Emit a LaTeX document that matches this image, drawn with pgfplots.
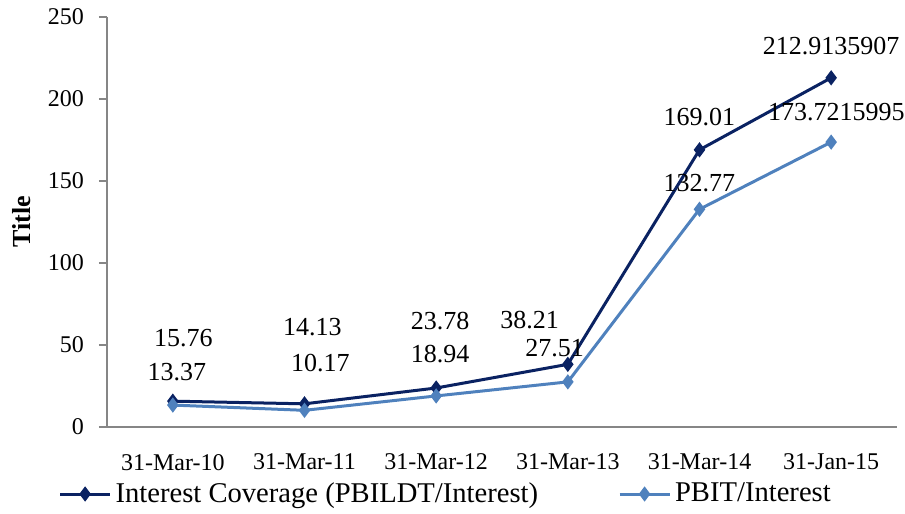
\documentclass[border=0pt]{standalone}
\usepackage{fontspec}
\setmainfont{Liberation Serif}
\usepackage{pgfplots}
\pgfplotsset{compat=1.18}
\definecolor{darkser}{RGB}{10,34,98}
\definecolor{lightser}{RGB}{79,129,189}
\definecolor{axgray}{RGB}{134,134,134}
\begin{document}
\begin{tikzpicture}
\path[use as bounding box] (-53.5pt,-43.5pt) rectangle (399pt,213.5pt);
\begin{axis}[
  scale only axis, width=395pt, height=205pt,
  xmin=-0.5, xmax=5.5, ymin=0, ymax=250,
  axis x line*=bottom, axis y line*=left,
  axis line style={axgray, line width=0.8pt},
  xtick={0,...,5},
  xticklabels={31-Mar-10,31-Mar-11,31-Mar-12,31-Mar-13,31-Mar-14,31-Jan-15},
  x tick style={draw=none},
  extra x ticks={-0.5,0.5,1.5,2.5,3.5,4.5,5.5},
  extra x tick labels={},
  extra x tick style={major tick length=4pt, tick style={axgray, line width=0.8pt, draw=axgray}},
  ytick={0,50,...,250},
  y tick style={axgray, line width=0.8pt},
  tick align=outside, major tick length=4pt,
  x tick label style={font=\fontsize{12}{14}\selectfont, yshift=-6pt},
  y tick label style={font=\fontsize{12}{14}\selectfont, xshift=-4pt},
  /pgf/number format/assume math mode=true,
  ylabel={\textbf{Title}},
  every axis y label/.style={at={(-42.5pt,0.5*205pt)}, rotate=90, anchor=center, font=\fontsize{13}{15}\selectfont},
  legend columns=2,
  legend style={draw=none, fill=none, font=\fontsize{14.3}{16}\selectfont,
    at={(0.43,-33.5pt)}, anchor=center, /tikz/every even column/.append style={column sep=38pt}},
  legend image code/.code={\draw[#1, mark=none] (0pt,0pt) -- (25pt,0pt); \draw[#1, only marks] plot coordinates {(12.5pt,0pt)};},
  clip=false,
]
\addplot[darkser, line width=1.5pt, mark=diamond*, mark size=2.6pt] coordinates {
(0,15.76) (1,14.13) (2,23.78) (3,38.21) (4,169.01) (5,212.9135907)};
\addlegendentry{Interest Coverage (PBILDT/Interest)}
\addplot[lightser, line width=1.5pt, mark=diamond*, mark size=2.6pt] coordinates {
(0,13.37) (1,10.17) (2,18.94) (3,27.51) (4,132.77) (5,173.7215995)};
\addlegendentry{PBIT/Interest}
\begin{scope}[every node/.style={font=\fontsize{13}{15}\selectfont}]
\node at (axis cs:0.08,54.3) {15.76};
\node at (axis cs:1.06,61) {14.13};
\node at (axis cs:2.03,64.6) {23.78};
\node at (axis cs:2.71,65.2) {38.21};
\node at (axis cs:4.0,189) {169.01};
\node at (axis cs:5.0,232.3) {212.9135907};
\node at (axis cs:0.03,33.5) {13.37};
\node at (axis cs:1.12,39) {10.17};
\node at (axis cs:2.03,44.5) {18.94};
\node at (axis cs:2.9,48.2) {27.51};
\node at (axis cs:4.0,148.8) {132.77};
\node at (axis cs:5.04,192) {173.7215995};
\end{scope}
\end{axis}
\end{tikzpicture}
\end{document}
